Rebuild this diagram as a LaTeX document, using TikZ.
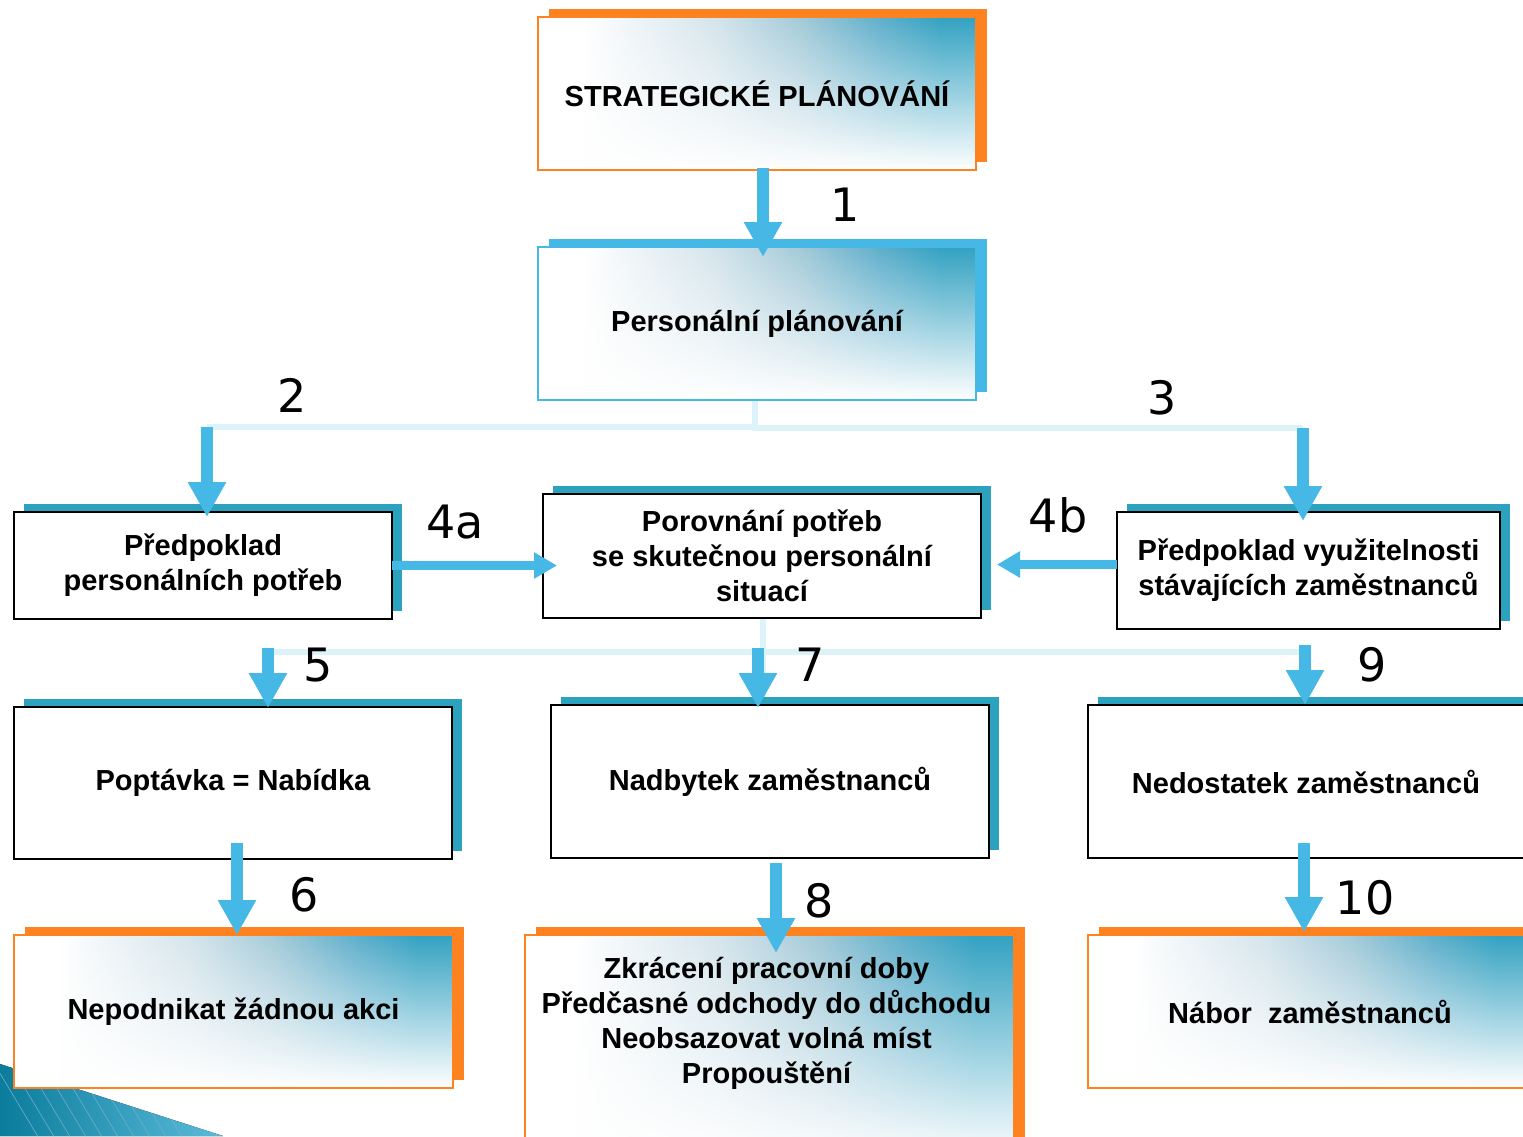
\documentclass[tikz,border=0pt]{standalone}
\usepackage{fontspec}
\setmainfont{Liberation Sans}
\newfontfamily\numfont{DejaVu Sans}
\usetikzlibrary{arrows.meta,shadows,fadings,positioning}
\definecolor{shadoworange}{HTML}{FF8220}
\definecolor{arrowblue}{HTML}{46B8E6}
\definecolor{shadowteal}{HTML}{2CA2BF}
\definecolor{palecyan}{HTML}{DCF4F9}
\definecolor{gradteal}{HTML}{33A2C2}
\definecolor{gradblue}{HTML}{5FAFCB}
\definecolor{gradmid}{HTML}{A3CAD8}
\definecolor{gradlight}{HTML}{D5E5EC}
\definecolor{wedgedark}{HTML}{0B7C9C}
\definecolor{wedgelight}{HTML}{5ABBDB}
\pgfdeclarehorizontalshading{boxgrad}{100bp}{color(0bp)=(white); color(30bp)=(white); color(45bp)=(gradlight); color(55bp)=(gradmid); color(64bp)=(gradblue); color(71bp)=(gradteal); color(100bp)=(gradteal)}
\tikzfading[name=boxfade, top color=transparent!100, middle color=transparent!88, bottom color=transparent!0]
\tikzset{
  box/.style={rectangle, inner sep=0pt, outer sep=0pt, align=center, line width=1.5pt,
    font=\fontsize{29}{35}\selectfont\bfseries},
  plainbox/.style={box, draw=black, fill=white,
    general shadow={shadow xshift=10pt, shadow yshift=8pt, fill=shadowteal}},
  gradbox/.style={box, draw=#1, shading=boxgrad,
    path picture={\fill[white, path fading=boxfade] (path picture bounding box.south west) rectangle (path picture bounding box.north east);},
    general shadow={shadow xshift=11pt, shadow yshift=8pt, fill=#1}},
  boxtext/.style={inner sep=0pt, align=center, font=\fontsize{29}{35}\selectfont\bfseries},
  numlabel/.style={inner sep=0pt, font=\numfont\fontsize{46}{46}\selectfont},
  arr/.style={draw=arrowblue, line width=12pt, -{Triangle[width=36pt,length=35pt]}},
  harr/.style={draw=arrowblue, line width=9pt, -{Triangle[width=25pt,length=23pt]}},
  paleline/.style={draw=palecyan, line width=6pt}
}
\begin{document}
\begin{tikzpicture}[x=1pt,y=-1pt]
\clip (0,0) rectangle (1523,1136);
\fill[white] (0,0) rectangle (1523,1136);
\fill[left color=wedgedark, right color=wedgelight] (0,1064) -- (223,1136) -- (0,1136) -- cycle;
\begin{scope}
\clip (0,1064) -- (223,1136) -- (0,1136) -- cycle;
\foreach \i in {0,16,...,240}
  \draw[wedgedark!60, line width=0.6pt] (\i-20,1040) -- (\i+40,1140);
\end{scope}
\coordinate (b2) at (207,427);
\coordinate (b3) at (1303,428);
\coordinate (s5) at (268,652);
\coordinate (s7) at (758,652);
\coordinate (s9) at (1305,652);
\draw[paleline] (755,400) |- (b2);
\draw[paleline] (755,400) |- (b3);
\draw[paleline] (763,618) -- (763,698);
\draw[paleline] (s5) -- (s9);
\node[gradbox=shadoworange, minimum width=438pt, minimum height=153pt] (strat) at (757,93.5) {STRATEGICKÉ PLÁNOVÁNÍ};
\node[gradbox=arrowblue, minimum width=438pt, minimum height=153pt] (pers) at (757,323.5) {Personální plánování};
\node[plainbox, minimum width=378pt, minimum height=107pt] (predA) at (203,565.5) {Předpoklad\\personálních potřeb};
\node[plainbox, minimum width=438pt, minimum height=124pt] (porov) at (762,556) {Porovnání potřeb\\se skutečnou personální\\situací};
\node[plainbox, minimum width=383pt, minimum height=117pt] (predB) at (1308.5,570.5) {Předpoklad využitelnosti\\stávajících zaměstnanců};
\node[plainbox, minimum width=438pt, minimum height=152pt] (popt) at (233,783) {Poptávka = Nabídka};
\node[plainbox, minimum width=438pt, minimum height=153pt] (nadb) at (770,781.5) {Nadbytek zaměstnanců};
\node[plainbox, minimum width=436pt, minimum height=153pt] (nedost) at (1306,781.5) {Nedostatek zaměstnanců};
\node[gradbox=shadoworange, minimum width=439pt, minimum height=153pt] (nepod) at (233.5,1011.5) {Nepodnikat žádnou akci};
\node[gradbox=shadoworange, minimum width=489pt, minimum height=225pt] (zkrac) at (769.5,1047.5) {};
\node[boxtext, below=22pt of zkrac.north, xshift=-3pt] (zkractxt) {Zkrácení pracovní doby\\Předčasné odchody do důchodu\\Neobsazovat volná míst\\Propouštění};
\node[gradbox=shadoworange, minimum width=444pt, minimum height=153pt] (nabor) at (1310,1011.5) {Nábor~ zaměstnanců};
\coordinate (a1) at ([xshift=6pt,yshift=2pt]strat.south);
\coordinate (a4b) at ([yshift=6pt]predB.west);
\coordinate (a6) at ([xshift=4pt,yshift=16pt]popt.south);
\coordinate (a8) at ([xshift=6pt,yshift=-5pt]nadb.south);
\coordinate (a10) at ([xshift=-2pt,yshift=15pt]nedost.south);
\draw[arr, shorten >=-10pt] (a1) -- (a1 |- pers.north);
\draw[arr, shorten >=-5pt] (b2) -- (b2 |- predA.north);
\draw[arr, shorten >=-9pt] (b3) -- (b3 |- predB.north);
\draw[harr, shorten >=-14pt] (predA.east) -- (predA.east -| porov.west);
\draw[harr, shorten >=16pt] (a4b) -- (a4b -| porov.east);
\draw[arr, shorten <=-4pt, shorten >=-1pt] (s5) -- (s5 |- popt.north);
\draw[arr, shorten <=-4pt, shorten >=-3pt] (s7) -- (s7 |- nadb.north);
\draw[arr, shorten <=-7pt] (s9) -- (s9 |- nedost.north);
\draw[arr] (a6) -- (a6 |- nepod.north);
\draw[arr, shorten >=-18pt] (a8) -- (a8 |- zkrac.north);
\draw[arr, shorten >=3pt] (a10) -- (a10 |- nabor.north);
\node[numlabel] (n1) at (845,205) {1};
\node[numlabel] (n2) at (292,395) {2};
\node[numlabel] (n3) at (1162,398) {3};
\node[numlabel] (n4a) at (455,522) {4a};
\node[numlabel] (n4b) at (1058,515) {4b};
\node[numlabel] (n5) at (318,665) {5};
\node[numlabel] (n7) at (810,665) {7};
\node[numlabel] (n9) at (1372,665) {9};
\node[numlabel] (n6) at (304,895) {6};
\node[numlabel] (n8) at (819,901) {8};
\node[numlabel] (n10) at (1365,898) {10};
\end{tikzpicture}
\end{document}
